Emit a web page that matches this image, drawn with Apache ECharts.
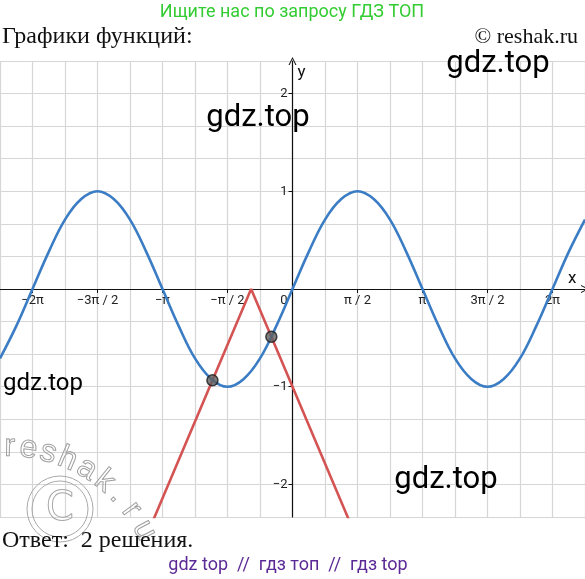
<!DOCTYPE html>
<html>
<head>
<meta charset="utf-8">
<script src="https://cdn.jsdelivr.net/npm/echarts@6/dist/echarts.min.js"></script>
<style>
  html, body { margin: 0; padding: 0; background: #fff; }
  #chart { width: 585px; height: 579px; }
</style>
</head>
<body>
<div id="chart"></div>
<script>
// y = sin x, sampled at k * pi/8 (k from -18 to 18)
const sineSteps = [-18, -17, -16, -15, -14, -13, -12, -11, -10, -9, -8, -7, -6, -5, -4, -3, -2, -1,
  0, 1, 2, 3, 4, 5, 6, 7, 8, 9, 10, 11, 12, 13, 14, 15, 16, 17, 18];
const sineY = [-0.71, -0.38, 0, 0.38, 0.71, 0.92, 1, 0.92, 0.71, 0.38, 0, -0.38, -0.71, -0.92, -1, -0.92, -0.71, -0.38,
  0, 0.38, 0.71, 0.92, 1, 0.92, 0.71, 0.38, 0, -0.38, -0.71, -0.92, -1, -0.92, -0.71, -0.38, 0, 0.38, 0.71];
// y = -|x + 1|
const vX = [-4, -1, 2];
const vY = [-3, 0, -3];
// intersection points
const crossX = [-1.935, -0.511];
const crossY = [-0.935, -0.489];
// x tick labels at k * pi/2
const xTickSteps = [-4, -3, -2, -1, 0, 1, 2, 3, 4];
const xTickLabels = ['−2π', '−3π / 2', '−π', '−π / 2', '0', 'π / 2', 'π', '3π / 2', '2π'];
const yTickValues = [-2, -1, 1, 2];
const yTickLabels = ['−2', '−1', '1', '2'];

const PI = Math.PI;
const X_MIN = -9 * PI / 4, X_MAX = 9 * PI / 4;
const Y_MIN = -7 / 3, Y_MAX = 7 / 3;
const chart = echarts.init(document.getElementById('chart'));

const arrow = 'path://M0,10 L5,0 L10,10 L8.6,10 L5,2.6 L1.4,10 Z';
const axisColor = '#111';
const labelFont = { fontFamily: 'Roboto', fontSize: 13, color: '#222' };

// watermark "reshak.ru" bent round the (c) sign
const wmLetters = 'reshak.ru'.split('');
const wmAngles = [1, 8, 15.5, 23, 31, 39, 46, 53.5, 62.5];
const wmGraphics = wmLetters.map((ch, i) => {
  const a = wmAngles[i] * PI / 180;
  return {
    type: 'text',
    x: 7 + 155 * Math.sin(a),
    y: 602 - 155 * Math.cos(a),
    rotation: -a,
    style: {
      text: ch, font: '32px "Liberation Sans"', fill: 'rgba(255,255,255,0)',
      stroke: '#a0a0a0', lineWidth: 1, align: 'center', verticalAlign: 'middle'
    },
    z: 1
  };
});

const hidden = { show: false };

chart.setOption({
  animation: false,
  grid: [
    // plot area with the square grid
    { left: 0, right: 0, top: 61, height: 456, outerBoundsMode: 'none', containLabel: false },
    // x axis strip, its bottom edge sits on y = 0
    { left: 0, right: 0, top: 61, height: 228, outerBoundsMode: 'none', containLabel: false },
    // y axis strip, its left edge sits on x = 0
    { left: 292.5, right: 0, top: 61, height: 456, outerBoundsMode: 'none', containLabel: false }
  ],
  xAxis: [
    {
      gridIndex: 0, type: 'value', min: X_MIN, max: X_MAX, interval: PI / 4,
      axisLine: hidden, axisTick: hidden, axisLabel: hidden,
      splitLine: { show: true, lineStyle: { color: '#d6d6d6', width: 1.2 } }
    },
    {
      gridIndex: 1, type: 'value', position: 'bottom', min: X_MIN, max: X_MAX,
      name: 'x',
      nameLocation: 'end',
      nameGap: -17,
      nameTextStyle: { fontFamily: 'Roboto', fontSize: 17, color: axisColor, verticalAlign: 'bottom', padding: [0, 0, 2, 0] },
      axisLine: { onZero: false, symbol: ['none', arrow], symbolSize: [12, 8], lineStyle: { color: axisColor, width: 1.2 } },
      axisTick: { show: true, length: 4, customValues: xTickSteps.map(k => k * PI / 2), lineStyle: { color: axisColor } },
      axisLabel: Object.assign({
        customValues: xTickSteps.map(k => k * PI / 2),
        margin: 5,
        formatter: v => {
          const i = xTickSteps.indexOf(Math.round(v / (PI / 2)));
          if (i < 0) return '';
          return xTickSteps[i] === 0 ? '{z|0}' : xTickLabels[i];
        },
        rich: { z: Object.assign({ padding: [0, 17, 0, 0] }, labelFont) }
      }, labelFont),
      splitLine: hidden
    },
    { gridIndex: 2, type: 'value', min: 0, max: 1, show: false }
  ],
  yAxis: [
    {
      gridIndex: 0, type: 'value', min: Y_MIN, max: Y_MAX, interval: 1 / 3,
      axisLine: hidden, axisTick: hidden, axisLabel: hidden,
      splitLine: { show: true, lineStyle: { color: '#d6d6d6', width: 1.2 } }
    },
    { gridIndex: 1, type: 'value', min: 0, max: 1, show: false },
    {
      gridIndex: 2, type: 'value', position: 'left', min: Y_MIN, max: Y_MAX,
      name: 'y',
      nameLocation: 'end',
      nameGap: -20,
      nameTextStyle: { fontFamily: 'Roboto', fontSize: 17, color: axisColor, padding: [0, 0, 0, 18] },
      axisLine: { onZero: false, symbol: ['none', arrow], symbolSize: [12, 8], lineStyle: { color: axisColor, width: 1.2 } },
      axisTick: { show: true, length: 4, customValues: yTickValues, lineStyle: { color: axisColor } },
      axisLabel: Object.assign({
        customValues: yTickValues,
        margin: 5,
        formatter: v => {
          const i = yTickValues.indexOf(Math.round(v));
          return i < 0 ? '' : yTickLabels[i];
        }
      }, labelFont),
      splitLine: hidden
    }
  ],
  series: [
    {
      type: 'line',
      xAxisIndex: 0, yAxisIndex: 0,
      data: sineSteps.map((k, i) => [k * PI / 8, sineY[i]]),
      smooth: 0.4,
      showSymbol: false,
      lineStyle: { color: '#3b7dc4', width: 2.6 },
      z: 3
    },
    {
      type: 'line',
      xAxisIndex: 0, yAxisIndex: 0,
      data: vX.map((x, i) => [x, vY[i]]),
      showSymbol: false,
      lineStyle: { color: '#d45454', width: 2.6 },
      z: 2
    },
    {
      type: 'scatter',
      xAxisIndex: 0, yAxisIndex: 0,
      data: crossX.map((x, i) => [x, crossY[i]]),
      symbolSize: 11,
      itemStyle: { color: '#5f5f5f', borderColor: '#1a1a1a', borderWidth: 1.5 },
      z: 4
    }
  ],
  graphic: [
    { type: 'text', x: 292, y: 12, style: { text: 'Ищите нас по запросу ГДЗ ТОП', font: '18px Roboto', fill: '#33cc33', align: 'center', verticalAlign: 'middle' } },
    { type: 'text', x: 2, y: 37, style: { text: 'Графики функций:', font: '24px "Liberation Serif"', fill: '#111', align: 'left', verticalAlign: 'middle' } },
    { type: 'text', x: 578, y: 37, style: { text: '© reshak.ru', font: '22px "Liberation Serif"', fill: '#111', align: 'right', verticalAlign: 'middle' } },
    { type: 'text', x: 498, y: 64, style: { text: 'gdz.top', font: '31px Roboto', fill: '#000', align: 'center', verticalAlign: 'middle' }, z: 10 },
    { type: 'text', x: 258, y: 118, style: { text: 'gdz.top', font: '31px Roboto', fill: '#000', align: 'center', verticalAlign: 'middle' }, z: 10 },
    { type: 'text', x: 43, y: 384, style: { text: 'gdz.top', font: '24px Roboto', fill: '#000', align: 'center', verticalAlign: 'middle' }, z: 10 },
    { type: 'text', x: 446, y: 480, style: { text: 'gdz.top', font: '31px Roboto', fill: '#000', align: 'center', verticalAlign: 'middle' }, z: 10 },
    { type: 'circle', shape: { cx: 60, cy: 509, r: 33 }, style: { fill: 'none', stroke: '#a8a8a8', lineWidth: 1 }, z: 1 },
    { type: 'circle', shape: { cx: 60, cy: 509, r: 28 }, style: { fill: 'none', stroke: '#a8a8a8', lineWidth: 1 }, z: 1 },
    { type: 'text', x: 60, y: 510, style: { text: 'C', font: '40px "DejaVu Sans"', fill: 'rgba(255,255,255,0)', stroke: '#a8a8a8', lineWidth: 1, align: 'center', verticalAlign: 'middle' }, z: 1 },
    ...wmGraphics,
    { type: 'text', x: 2, y: 541, style: { text: 'Ответ:  2 решения.', font: '24px "Liberation Serif"', fill: '#111', align: 'left', verticalAlign: 'middle' }, z: 10 },
    { type: 'text', x: 288, y: 565, style: { text: 'gdz top  //  гдз топ  //  гдз top', font: '18px Roboto', fill: '#5b2a96', align: 'center', verticalAlign: 'middle' }, z: 10 }
  ]
});
</script>
</body>
</html>
